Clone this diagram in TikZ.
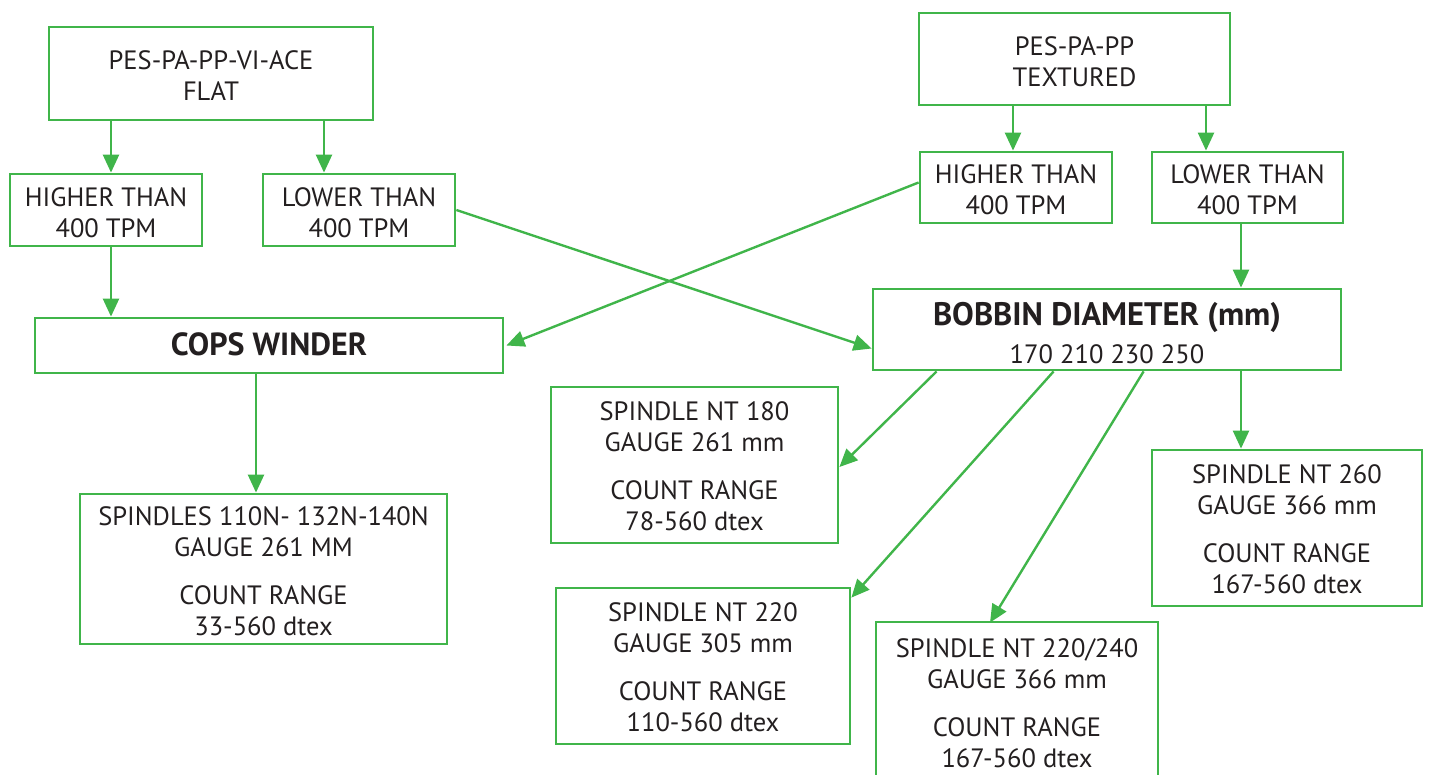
\documentclass[tikz,border=0pt]{standalone}
\usepackage{fontspec}
\setmainfont{PT Sans}
\usetikzlibrary{arrows.meta,calc}
\definecolor{grn}{RGB}{64,181,74}
\definecolor{ink}{RGB}{35,31,32}
\newcommand\tx[2][5.5pt]{\raisebox{-#1}[\height][\depth]{\begin{tabular}{@{}c@{}}#2\end{tabular}}}
\tikzset{
  box/.style={draw=grn, line width=2.8pt, fill=white, inner sep=0pt,
    text=ink, font=\fontsize{26.5}{31}\selectfont},
  conn/.style={draw=grn, line width=2.4pt, -{Triangle[length=18pt,width=16pt]}},
}
\begin{document}
\begin{tikzpicture}[x=1pt,y=-1pt]
\useasboundingbox (0,0) rectangle (1431,774);
% left branch
\node[box, minimum width=324pt, minimum height=93pt] (A) at (211,73.5) {\tx{PES-PA-PP-VI-ACE\\FLAT}};
\node[box, minimum width=192pt, minimum height=72pt] (B) at (106,210) {\tx{HIGHER THAN\\400 TPM}};
\node[box, minimum width=192pt, minimum height=72pt] (C) at (359,210) {\tx{LOWER THAN\\400 TPM}};
\node[box, minimum width=468pt, minimum height=55pt, font=\bfseries\fontsize{32}{34}\selectfont] (D) at (269,345.5) {\tx[3pt]{COPS WINDER}};
\node[box, minimum width=367pt, minimum height=150pt] (E) at (263.5,569) {\tx{SPINDLES 110N- 132N-140N\\GAUGE 261 MM\\[17pt]COUNT RANGE\\33-560 dtex}};
% right branch
\node[box, minimum width=311pt, minimum height=92pt] (F) at (1074.5,59) {\tx{PES-PA-PP\\TEXTURED}};
\node[box, minimum width=192pt, minimum height=71pt] (G) at (1016,187.5) {\tx{HIGHER THAN\\400 TPM}};
\node[box, minimum width=191pt, minimum height=71pt] (H) at (1247.5,187.5) {\tx{LOWER THAN\\400 TPM}};
\node[box, minimum width=468pt, minimum height=81pt] (I) at (1107,329.5) {\tx[8pt]{{\bfseries\fontsize{32.5}{34}\selectfont BOBBIN DIAMETER (mm)}\\[7pt]170 210 230 250}};
\node[box, minimum width=287pt, minimum height=156pt] (J) at (694.5,465) {\tx[4.5pt]{SPINDLE NT 180\\GAUGE 261 mm\\[17pt]COUNT RANGE\\78-560 dtex}};
\node[box, minimum width=294pt, minimum height=156pt] (K) at (703,666) {\tx[4.5pt]{SPINDLE NT 220\\GAUGE 305 mm\\[17pt]COUNT RANGE\\110-560 dtex}};
\node[box, minimum width=282pt, minimum height=160pt] (L) at (1017,702) {\tx[4.5pt]{SPINDLE NT 220/240\\GAUGE 366 mm\\[17pt]COUNT RANGE\\167-560 dtex}};
\node[box, minimum width=270pt, minimum height=156pt] (M) at (1287,528) {\tx[4.5pt]{SPINDLE NT 260\\GAUGE 366 mm\\[17pt]COUNT RANGE\\167-560 dtex}};
% guide coordinates for vertical connectors
\coordinate (xa) at (111,0);
\coordinate (xb) at (324,0);
\coordinate (xd) at (256,0);
\coordinate (xf) at (1013,0);
\coordinate (xg) at (1206,0);
\coordinate (xh) at (1241,0);
% connectors
\draw[conn] (A.south -| xa) -- (B.north -| xa);
\draw[conn] (A.south -| xb) -- (C.north -| xb);
\draw[conn] (B.south -| xa) -- (D.north -| xa);
\draw[conn] (D.south -| xd) -- (E.north -| xd);
\draw[conn] (F.south -| xf) -- (G.north -| xf);
\draw[conn] (F.south -| xg) -- (H.north -| xg);
\draw[conn] (H.south -| xh) -- (I.north -| xh);
\draw[conn] (I.south -| xh) -- (M.north -| xh);
\draw[conn] (C.east) -- ([yshift=-19pt]I.west);
\draw[conn] ([yshift=5pt]G.west) -- ([xshift=2pt]D.east);
\draw[conn] ([xshift=65pt]I.south west) -- ([yshift=-2pt]J.east);
\draw[conn] ([xshift=182pt]I.south west) -- ([yshift=-11pt]K.north east);
\draw[conn] ([xshift=272pt]I.south west) -- ([xshift=-27pt,yshift=-2pt]L.north);
\end{tikzpicture}
\end{document}
